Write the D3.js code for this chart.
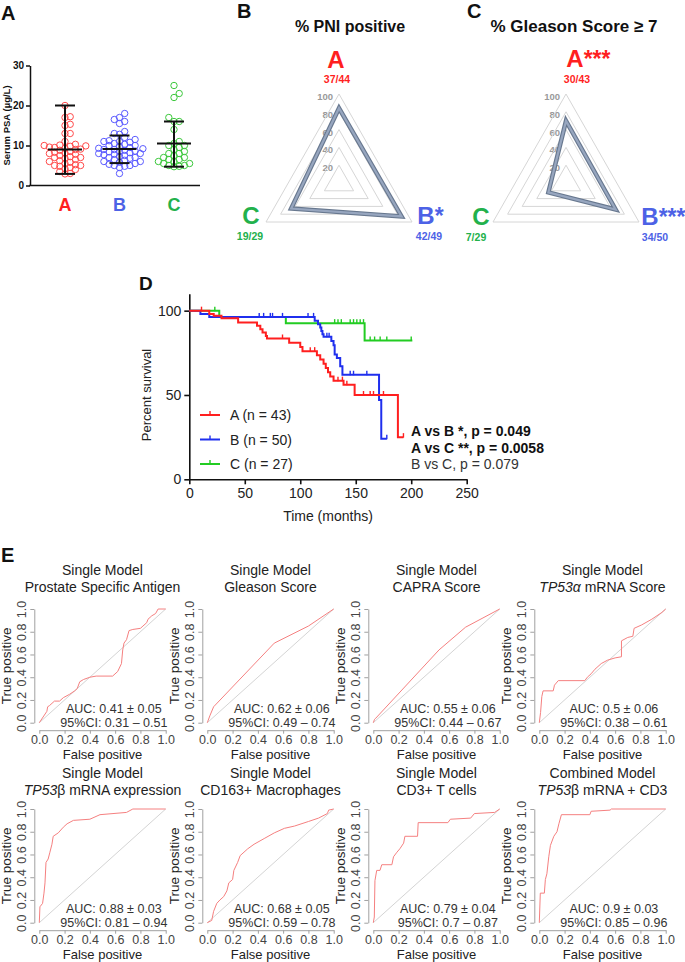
<!DOCTYPE html>
<html><head><meta charset="utf-8">
<script src="https://cdn.jsdelivr.net/npm/d3@7"></script>
<style>body{margin:0;background:#fff}svg{display:block;font-family:"Liberation Sans",Arial,Helvetica,sans-serif}</style>
</head><body><svg id="c" width="685" height="962"></svg>
<script>
// ================= DATA =================
// Panel A: serum PSA (ug/L)
const psaGroups = ["A","B","C"];
const psaA = [20,17.2,17,15.3,15,13,13,11,10.3,10.1,10,9.8,9.6,9.5,9.3,9.1,9,8.8,8.5,8.3,8.1,8,7.8,7.5,7.2,7,7,6.8,6.5,6.2,6,5.8,5.5,5.2,5,5,4.8,4.5,4.2,4,3.5,3,2.9,9.9];
const psaB = [18,17,16.5,16,15.5,13.5,13,12.8,12,11.5,11.2,11,11,10.8,10.5,10.3,10,10,9.8,9.5,9.3,9,9,8.8,8.6,8.4,8.2,8,8,7.8,7.5,7.3,7,7,6.8,6.5,6.3,6,6,5.8,5.5,5.3,5,5,4.8,4.5,3,9.2,8.5,7.7];
const psaC = [25,23,22,17,16,16,14,11,10.5,10,10,9.5,9,8.5,8,8,7.5,7,7,6.5,6.5,6,6,5.5,5.5,5,5,4.8,4.7];
const psaMid = [9.0,9.1,10.5];
const psaLow = [2.9,5.6,4.7];
const psaHigh = [20,12.5,16];
const psaTicks = [0,10,20,30];

// Panels B & C: radar charts
const radarAxes = ["A","B","C"];
const pniPos = [37,42,19], pniTot = [44,49,29], pniStars = ["","*",""];
const gsPos = [30,34,7], gsTot = [43,50,29], gsStars = ["***","***",""];
const radarTicks = [20,40,60,80,100];

// Panel D: Kaplan-Meier [months, % survival]
const kmA = [[0,100],[18,98],[22,97],[29,95.5],[44,93],[61,91],[64,89],[66,87],[69,85],[70,83.5],[90,81],[100,78.5],[102,76],[115,73.5],[118,71],[121,68.5],[123,66],[125,63.5],[127,61],[130,58.5],[139,56],[149,50],[188,25],[193,25]];
const kmB = [[0,100],[10,98],[18,96.3],[113,94],[116,92],[118,90],[119,88],[120,86],[121,84.5],[128,82],[130,79.5],[131,74],[133,72],[136,67],[138,62],[171,47],[173,24],[178,24]];
const kmC = [[0,100],[27,96.3],[87,92.6],[158,82.3],[201,82.3]];
const censA = [11,84,109,113,134,138,142,157,163,166,175,193];
const censB = [63,67,73,75,84,107,112,124,126,145,148,160,178];
const censC = [23,131,134,137,145,148,151,154,157,163,167,172,178,200];
const kmLegend = ["A (n = 43)","B (n = 50)","C (n = 27)"];
const kmStats = ["A vs B *, p = 0.049","A vs C **, p = 0.0058","B vs C, p = 0.079"];
const kmXTicks = [0,50,100,150,200,250];
const kmYTicks = [0,50,100];

// Panel E: ROC curves [FPR, TPR]
const roc1 = [[0,0],[0.03,0.05],[0.06,0.1],[0.066,0.14],[0.08,0.15],[0.12,0.19],[0.16,0.19],[0.19,0.22],[0.24,0.25],[0.28,0.28],[0.3,0.3],[0.32,0.36],[0.35,0.38],[0.4,0.4],[0.45,0.41],[0.58,0.41],[0.62,0.45],[0.65,0.52],[0.66,0.64],[0.67,0.7],[0.69,0.73],[0.71,0.81],[0.74,0.82],[0.8,0.83],[0.82,0.85],[0.85,0.88],[0.86,0.91],[0.89,0.94],[0.92,0.96],[0.94,1],[1,1]];
const roc2 = [[0,0],[0.02,0.06],[0.05,0.14],[0.53,0.7],[0.8,0.85],[1,1]];
const roc3 = [[0,0],[0.01,0.03],[0.02,0.04],[0.52,0.64],[0.73,0.84],[1,1]];
const roc4 = [[0,0],[0.01,0.09],[0.02,0.23],[0.03,0.28],[0.11,0.28],[0.12,0.33],[0.15,0.37],[0.36,0.37],[0.38,0.4],[0.41,0.43],[0.44,0.47],[0.49,0.52],[0.54,0.55],[0.6,0.57],[0.65,0.58],[0.65,0.72],[0.7,0.75],[0.74,0.76],[0.75,0.83],[0.81,0.86],[0.89,0.91],[0.97,0.97],[1,1]];
const roc5 = [[0,0],[0.005,0.14],[0.026,0.17],[0.037,0.26],[0.045,0.35],[0.053,0.53],[0.07,0.56],[0.084,0.62],[0.1,0.69],[0.11,0.76],[0.15,0.79],[0.19,0.84],[0.22,0.87],[0.27,0.9],[0.4,0.91],[0.48,0.95],[0.69,0.97],[0.74,1],[1,1]];
const roc6 = [[0,0],[0.035,0.02],[0.05,0.1],[0.075,0.17],[0.1,0.2],[0.13,0.23],[0.155,0.28],[0.17,0.35],[0.2,0.38],[0.21,0.46],[0.24,0.53],[0.26,0.59],[0.32,0.65],[0.37,0.69],[0.45,0.74],[0.53,0.79],[0.61,0.83],[0.69,0.85],[0.8,0.89],[0.88,0.92],[0.95,0.96],[0.96,0.99],[1,1]];
const roc7 = [[0,0],[0.008,0.05],[0.013,0.37],[0.027,0.46],[0.053,0.46],[0.067,0.51],[0.147,0.51],[0.16,0.58],[0.187,0.62],[0.21,0.65],[0.24,0.7],[0.25,0.76],[0.35,0.76],[0.355,0.88],[0.59,0.88],[0.61,0.91],[0.77,0.92],[0.8,0.96],[0.96,0.97],[1,1]];
const roc8 = [[0,0],[0.008,0.26],[0.04,0.26],[0.048,0.38],[0.06,0.43],[0.075,0.58],[0.088,0.68],[0.115,0.76],[0.14,0.8],[0.155,0.87],[0.175,0.95],[0.4,0.95],[0.41,0.98],[0.56,0.99],[0.57,1],[1,1]];
const rocTitle1 = ["Single Model","Single Model","Single Model","Single Model","Single Model","Single Model","Single Model","Combined Model"];
const rocTitle2 = ["Prostate Specific Antigen","Gleason Score","CAPRA Score","TP53α mRNA Score","TP53β mRNA expression","CD163+ Macrophages","CD3+ T cells","TP53β mRNA + CD3"];
const rocItalic = ["","","","TP53α","TP53","","","TP53"];
const rocAUC = ["0.41 ± 0.05","0.62 ± 0.06","0.55 ± 0.06","0.5 ± 0.06","0.88 ± 0.03","0.68 ± 0.05","0.79 ± 0.04","0.9 ± 0.03"];
const rocCI = ["0.31 – 0.51","0.49 – 0.74","0.44 – 0.67","0.38 – 0.61","0.81 – 0.94","0.59 – 0.78","0.7 – 0.87","0.85 – 0.96"];
const rocTicks = [0,0.2,0.4,0.6,0.8,1.0];

// ================= DRAW =================
const svg = d3.select("#c");
const grpColor = {A:"#ff1f1f",B:"#4d62e6",C:"#22b14c"};
const dotColor = {A:"#ff4a4a",B:"#5a5aff",C:"#3cc83c"};

function label(t,x,y,size){svg.append("text").attr("x",x).attr("y",y).attr("font-size",size).attr("font-weight","bold").attr("fill","#111").text(t);}
label("A",1,20,20); label("B",237,18,20); label("C",467,18,20); label("D",139,290,19); label("E",1,562,20);

// ---------- Panel A ----------
(function(){
  const y = d3.scaleLinear().domain([0,30]).range([185.5,65.5]);
  const x = d3.scalePoint().domain(psaGroups).range([65,174]);
  const g = svg.append("g");
  const ax = g.append("g").attr("transform","translate(30,0)")
    .call(d3.axisLeft(y).tickValues(psaTicks).tickSize(4).tickSizeOuter(0).tickPadding(2));
  ax.selectAll("path,line").attr("stroke","#111").attr("stroke-width",1.5);
  ax.selectAll("text").attr("font-size",10).attr("font-weight","bold").attr("fill","#111").attr("font-family",null);
  g.append("line").attr("x1",29.25).attr("x2",200).attr("y1",y(0)).attr("y2",y(0)).attr("stroke","#111").attr("stroke-width",1.5);
  g.append("text").attr("transform",`translate(9.5,${(y(0)+y(30))/2}) rotate(-90)`).attr("text-anchor","middle")
    .attr("font-size",9.5).attr("font-weight","bold").attr("fill","#111").text("Serum PSA (µg/L)");
  const sets = [psaA,psaB,psaC];
  sets.forEach((vals,gi)=>{
    const key = psaGroups[gi], cx = x(key);
    const placed=[];
    vals.slice().sort((a,b)=>a-b).forEach(v=>{
      const py=y(v);
      for(let k=0;k<60;k++){
        const off = k===0?0:(k%2?1:-1)*Math.ceil(k/2)*2.6;
        const px = cx+off;
        if(placed.every(p=>(p[0]-px)**2+(p[1]-py)**2>=4.8*4.8)){placed.push([px,py]);break;}
      }
    });
    g.append("g").selectAll("circle").data(placed).join("circle")
      .attr("cx",d=>d[0]).attr("cy",d=>d[1]).attr("r",3.2).attr("fill","none")
      .attr("stroke",dotColor[key]).attr("stroke-width",1);
    const eb = g.append("g").attr("stroke","#111").attr("stroke-width",2);
    eb.append("line").attr("x1",cx).attr("x2",cx).attr("y1",y(psaLow[gi])).attr("y2",y(psaHigh[gi]));
    eb.append("line").attr("x1",cx-17).attr("x2",cx+17).attr("y1",y(psaMid[gi])).attr("y2",y(psaMid[gi]));
    [psaLow[gi],psaHigh[gi]].forEach(v=>eb.append("line").attr("x1",cx-10).attr("x2",cx+10).attr("y1",y(v)).attr("y2",y(v)));
    g.append("text").attr("x",cx).attr("y",211).attr("text-anchor","middle").attr("font-size",18)
      .attr("font-weight","bold").attr("fill",grpColor[key]).text(key);
  });
})();

// ---------- Panels B & C (radar) ----------
function radar(cx,cy,title,titleX,titleSize,pos,tot,stars,lab){
  const r = d3.scaleLinear().domain([0,100]).range([0,1]);
  const vec = [[0,-89],[73,39],[-73,39]]; // A top, B bottom-right, C bottom-left
  const pt = (i,v)=>[cx+vec[i][0]*r(v), cy+vec[i][1]*r(v)];
  const g = svg.append("g");
  g.append("text").attr("x",titleX).attr("y",32).attr("text-anchor","middle").attr("font-size",titleSize)
    .attr("font-weight","bold").attr("fill","#111").text(title);
  radarTicks.forEach(t=>{
    g.append("polygon").attr("points",[0,1,2].map(i=>pt(i,t).join(",")).join(" "))
      .attr("fill","none").attr("stroke","#d6d6d6").attr("stroke-width",1);
    g.append("text").attr("x",cx-6).attr("y",pt(0,t)[1]+6).attr("text-anchor","end")
      .attr("font-size",9.5).attr("font-weight","bold").attr("fill","#9a9a9a").text(t);
  });
  const pct = pos.map((p,i)=>100*p/tot[i]);
  const poly = pct.map((v,i)=>pt(i,v).join(",")).join(" ");
  g.append("polygon").attr("points",poly).attr("fill","none").attr("stroke","#68788f").attr("stroke-width",4.5).attr("stroke-linejoin","miter");
  g.append("polygon").attr("points",poly).attr("fill","none").attr("stroke","#97a6bf").attr("stroke-width",2.2).attr("stroke-linejoin","miter");
  radarAxes.forEach((k,i)=>{
    const L = lab[i];
    const t = g.append("text").attr("x",L[0]).attr("y",L[1]).attr("text-anchor","middle").attr("font-size",24)
      .attr("font-weight","bold").attr("fill",grpColor[k]).text(k);
    if(stars[i]){
      const w = t.node().getComputedTextLength();
      g.append("text").attr("x",L[0]+w/2).attr("y",L[1]).attr("font-size",23).attr("font-weight","bold")
        .attr("fill",grpColor[k]).text(stars[i]);
    }
    g.append("text").attr("x",L[2]).attr("y",L[3]).attr("text-anchor","middle").attr("font-size",10.5)
      .attr("font-weight","bold").attr("fill",grpColor[k]).text(pos[i]+"/"+tot[i]);
  });
}
radar(339,183,"% PNI positive",350,16,pniPos,pniTot,pniStars,
  [[336,68,337,83],[426,224,429,240],[251,224,250,240]]);
radar(566,183,"% Gleason Score ≥ 7",574,17,gsPos,gsTot,gsStars,
  [[575,67,577,83],[650,225,655,241],[481,225,476,241]]);

// ---------- Panel D (KM) ----------
(function(){
  const x = d3.scaleLinear().domain([0,250]).range([189.3,466.7]);
  const y = d3.scaleLinear().domain([0,110]).range([479.3,293.8]);
  const g = svg.append("g");
  const xa = g.append("g").attr("transform",`translate(0,${y(0)})`)
    .call(d3.axisBottom(x).tickValues(kmXTicks).tickSize(5).tickSizeOuter(0).tickPadding(4));
  const ya = g.append("g").attr("transform",`translate(${x(0)},0)`)
    .call(d3.axisLeft(y).tickValues(kmYTicks).tickSize(5).tickSizeOuter(0).tickPadding(3));
  [xa,ya].forEach(a=>{a.selectAll("path,line").attr("stroke","#111").attr("stroke-width",1.6);
    a.selectAll("text").attr("font-size",14).attr("fill","#222").attr("font-family",null);});
  g.append("text").attr("x",(x(0)+x(250))/2).attr("y",521).attr("text-anchor","middle").attr("font-size",14).attr("fill","#222").text("Time (months)");
  g.append("text").attr("transform",`translate(151,${(y(0)+y(100))/2}) rotate(-90)`).attr("text-anchor","middle")
    .attr("font-size",13).attr("fill","#222").text("Percent survival");
  const line = d3.line().curve(d3.curveStepAfter).x(d=>x(d[0])).y(d=>y(d[1]));
  const survAt=(km,t)=>{let s=km[0][1];km.forEach(d=>{if(d[0]<=t)s=d[1];});return s;};
  const series=[[kmC,censC,"#22cc22"],[kmB,censB,"#1f2fee"],[kmA,censA,"#ff1f1f"]];
  series.forEach(([km,cens,col])=>{
    g.append("path").datum(km).attr("d",line).attr("fill","none").attr("stroke",col).attr("stroke-width",2);
    g.append("g").selectAll("line").data(cens).join("line")
      .attr("x1",d=>x(d)).attr("x2",d=>x(d)).attr("y1",d=>y(survAt(km,d))-4).attr("y2",d=>y(survAt(km,d))+0.5)
      .attr("stroke",col).attr("stroke-width",1.4);
  });
  const legCols=["#ff1f1f","#1f2fee","#22cc22"];
  kmLegend.forEach((t,i)=>{
    const yy=415+i*24.5;
    g.append("line").attr("x1",200).attr("x2",220).attr("y1",yy).attr("y2",yy).attr("stroke",legCols[i]).attr("stroke-width",2);
    g.append("line").attr("x1",210).attr("x2",210).attr("y1",yy-4).attr("y2",yy).attr("stroke",legCols[i]).attr("stroke-width",1.4);
    g.append("text").attr("x",230).attr("y",yy+5).attr("font-size",14).attr("fill","#222").text(t);
  });
  kmStats.forEach((t,i)=>{
    g.append("text").attr("x",411).attr("y",436+i*16.5).attr("font-size",14)
      .attr("font-weight",i<2?"bold":"normal").attr("fill",i<2?"#111":"#333").text(t);
  });
})();

// ---------- Panel E (ROC) ----------
const rocData=[roc1,roc2,roc3,roc4,roc5,roc6,roc7,roc8];
rocData.forEach((data,i)=>{
  const col=i%4,row=Math.floor(i/4);
  const x0=[39.3,207.3,373.3,539.3][col], y0=[722.7,922.7][row];
  const W=126.4,H=113.7;
  const x=d3.scaleLinear().domain([0,1]).range([x0,x0+W]);
  const y=d3.scaleLinear().domain([0,1]).range([y0,y0-H]);
  const g=svg.append("g");
  const tb=[575,778][row];
  g.append("text").attr("x",x(0.5)).attr("y",tb).attr("text-anchor","middle").attr("font-size",14).attr("fill","#222").text(rocTitle1[i]);
  const t2=g.append("text").attr("x",x(0.5)).attr("y",tb+17).attr("text-anchor","middle").attr("font-size",14).attr("fill","#222");
  const it=rocItalic[i];
  if(it){t2.append("tspan").attr("font-style","italic").text(it);t2.append("tspan").text(rocTitle2[i].slice(it.length));}
  else t2.text(rocTitle2[i]);
  g.append("line").attr("x1",x(0)).attr("y1",y(0)).attr("x2",x(1)).attr("y2",y(1)).attr("stroke","#d4d4d4").attr("stroke-width",1);
  g.append("path").datum(data).attr("d",d3.line().x(d=>x(d[0])).y(d=>y(d[1]))).attr("fill","none").attr("stroke","#f58080").attr("stroke-width",1);
  const xa=g.append("g").attr("transform",`translate(0,${y0+7.5})`)
    .call(d3.axisBottom(x).tickValues(rocTicks).tickFormat(d3.format(".1f")).tickSize(3.5).tickSizeOuter(0).tickPadding(2));
  const ya=g.append("g").attr("transform",`translate(${x0-5},0)`)
    .call(d3.axisLeft(y).tickValues(rocTicks).tickFormat(d3.format(".1f")).tickSize(4).tickSizeOuter(0));
  [xa,ya].forEach(a=>{a.selectAll("path,line").attr("stroke","#a0a0a0").attr("stroke-width",1);
    a.selectAll("text").attr("font-size",12.5).attr("fill","#444").attr("font-family",null);});
  xa.selectAll("text").attr("dy",null).attr("y",14);
  ya.selectAll("text").attr("transform","rotate(-90)").attr("x",0).attr("y",-8.5).attr("dy",null).attr("text-anchor","middle");
  g.append("text").attr("transform",`translate(${x0-28},${y(0.5)}) rotate(-90)`).attr("text-anchor","middle").attr("font-size",13.5).attr("fill","#222").text("True positive");
  g.append("text").attr("x",x(0.5)).attr("y",y0+36.5).attr("text-anchor","middle").attr("font-size",13).attr("fill","#222").text("False positive");
  g.append("text").attr("x",x(0.59)).attr("y",y0-9.5).attr("text-anchor","middle").attr("font-size",12.5).attr("fill","#333").text("AUC: "+rocAUC[i]);
  g.append("text").attr("x",x(0.59)).attr("y",y0+4.5).attr("text-anchor","middle").attr("font-size",12.5).attr("fill","#333").text("95%CI: "+rocCI[i]);
});
</script></body></html>
